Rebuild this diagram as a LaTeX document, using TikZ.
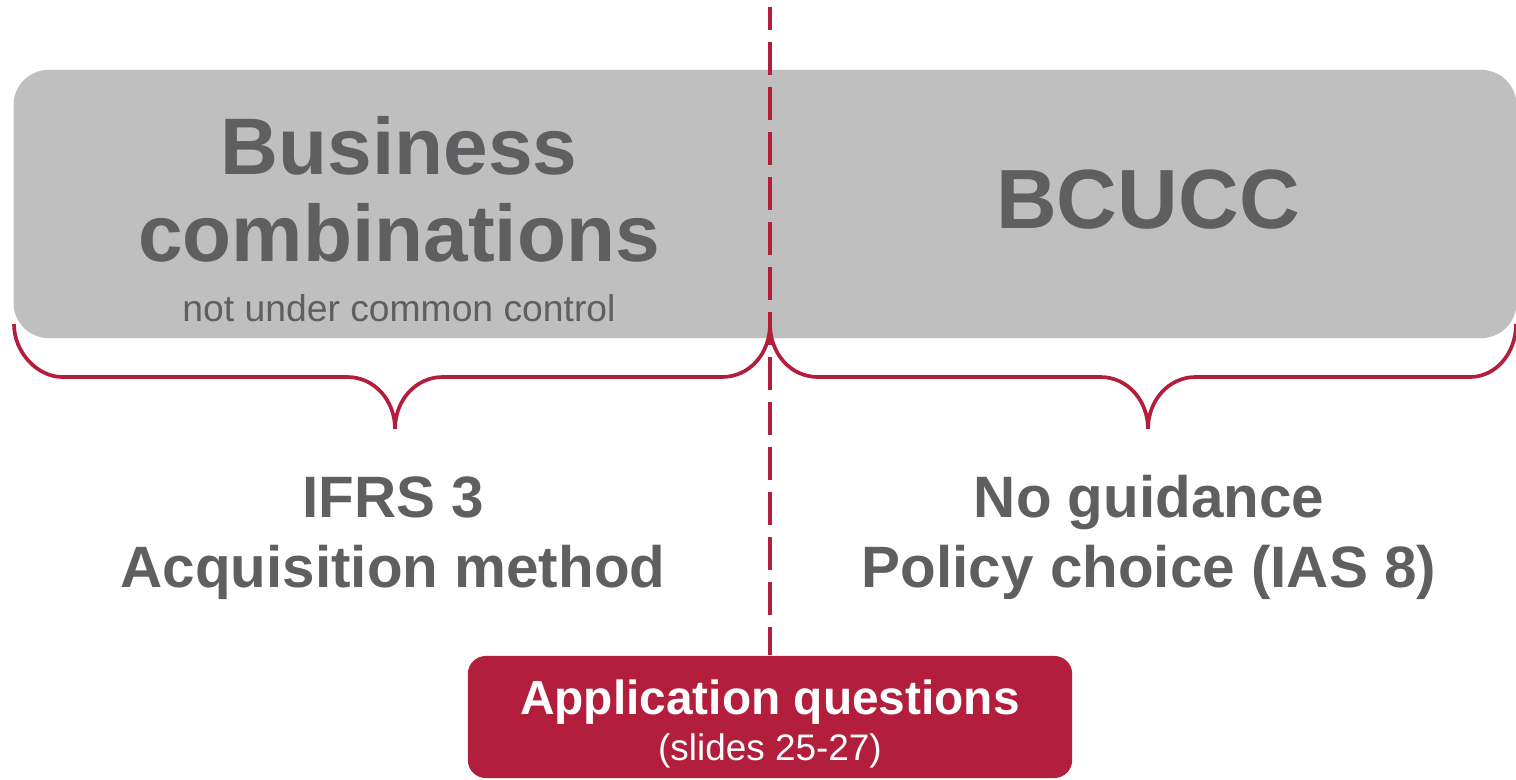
\documentclass[tikz,border=0pt]{standalone}
\usepackage{fontspec}
\setmainfont{Liberation Sans}
\usepackage{tikz}
\usetikzlibrary{positioning}

\definecolor{crimson}{HTML}{B21E3C}
\definecolor{boxgrey}{HTML}{BFBFBF}
\definecolor{textgrey}{HTML}{5F5F61}

\tikzset{
  bigtitle/.style={anchor=base, inner sep=0pt, text=textgrey, font=\bfseries\fontsize{22.8}{24}\selectfont},
  subtitle/.style={anchor=base, inner sep=0pt, text=textgrey, font=\fontsize{10.6}{12}\selectfont},
  result/.style={anchor=base, inner sep=0pt, text=textgrey, font=\bfseries\fontsize{16.6}{18}\selectfont},
  bracket/.style={crimson, line width=1.05pt},
  divider/.style={crimson, line width=1.1pt, dash pattern=on 9.4pt off 3.4pt, dash phase=2.8pt}
}

\begin{document}
\begin{tikzpicture}[x=0.01cm, y=-0.01cm]

\useasboundingbox (0,0) rectangle (1516,780);

%\draw[step=1cm, gray, very thin, dotted] (0,0) grid (1516,780);

\node at (765,204) [rectangle, fill=boxgrey, rounded corners=0.35cm, minimum width=15.02cm, minimum height=2.68cm, inner sep=0pt] (topbox) {};

\node at (399,175) [bigtitle] (bizA) {Business};
\node at (399,262) [bigtitle] (bizB) {combinations};
\node at (399,322) [subtitle] (bizC) {not under common control};
\node at (1148,229) [bigtitle, font=\bfseries\fontsize{23.9}{25}\selectfont] (bcucc) {BCUCC};

% braces under the grey box
\draw[bracket] (14,324) .. controls (14,353) and (38,377) .. (62,377) -- (347,377)
	.. controls (375,377) and (395,401) .. (395,429)
	.. controls (395,401) and (415,377) .. (443,377) -- (722,377)
	.. controls (750,377) and (770,353) .. (770,324);
\draw[bracket] (770,324) .. controls (770,353) and (790,377) .. (818,377) -- (1100,377)
	.. controls (1128,377) and (1148,401) .. (1148,429)
	.. controls (1148,401) and (1168,377) .. (1196,377) -- (1470,377)
	.. controls (1496,377) and (1516,353) .. (1516,324);

\node at (393,518) [result] (ifrs) {IFRS 3};
\node at (393,588) [result] (acq) {Acquisition method};
\node at (1149,518) [result] (noguide) {No guidance};
\node at (1149,588) [result] (policy) {Policy choice (IAS 8)};

\node at (770,717) [rectangle, fill=crimson, rounded corners=0.18cm, minimum width=6.04cm, minimum height=1.22cm, inner sep=0pt] (appbox) {};
\node at (770,715) [anchor=base, inner sep=0pt, text=white, font=\bfseries\fontsize{13.6}{15}\selectfont] (appA) {Application questions};
\node at (770,760) [anchor=base, inner sep=0pt, text=white, font=\fontsize{10.5}{12}\selectfont] (appB) {(slides 25-27)};

\coordinate (divtop) at (770,7);
\draw[divider] (divtop) -- (appbox.north);

\end{tikzpicture}
\end{document}
